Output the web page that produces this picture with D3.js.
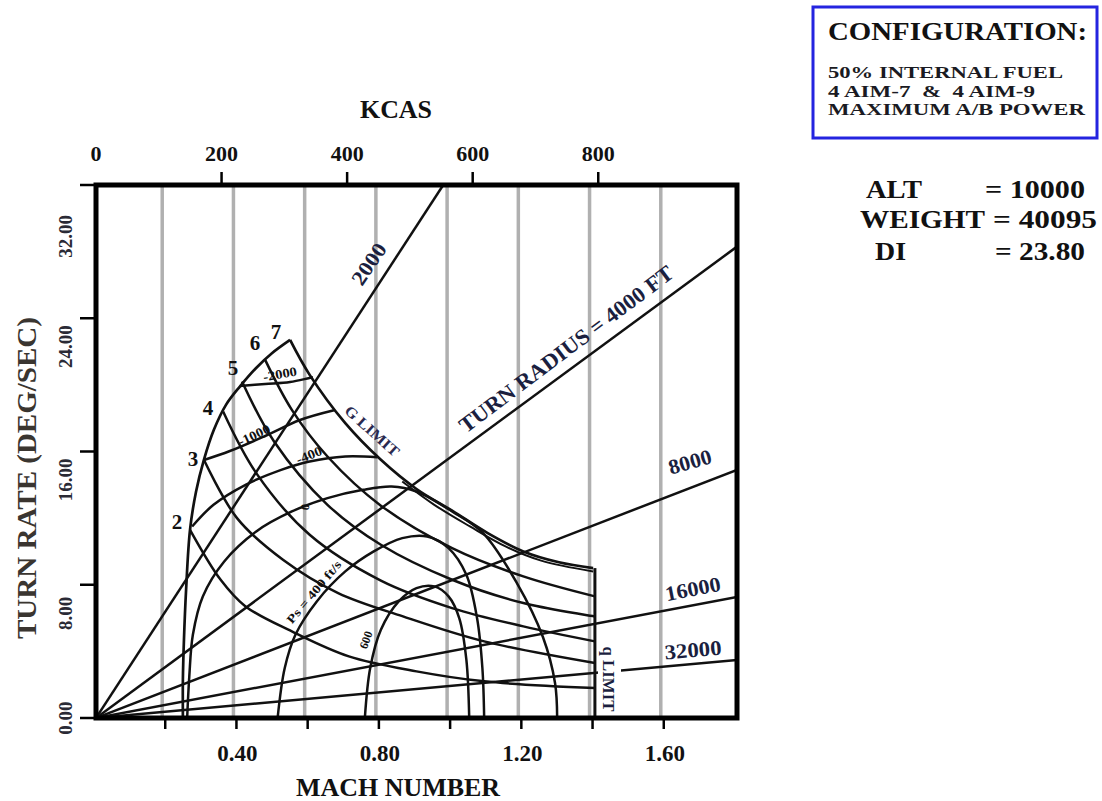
<!DOCTYPE html>
<html><head><meta charset="utf-8">
<script src="https://cdn.jsdelivr.net/npm/d3@7"></script>
<style>
html,body{margin:0;padding:0;background:#fff;}
svg{display:block;font-family:"Liberation Serif","Times New Roman",serif;font-weight:bold;}
</style></head><body>
<svg id="chart" width="1102" height="801"></svg>
<script>
// ---- axis values ----
const machTicks = [0.2, 0.4, 0.6, 0.8, 1.0, 1.2, 1.4, 1.6];
const machLabels = [0.4, 0.8, 1.2, 1.6];
const gridMach = [0.2, 0.4, 0.6, 0.8, 1.0, 1.2, 1.4, 1.6];
const rateTicks = [0, 8, 16, 24, 32];
const kcasTicks = [0, 200, 400, 600, 800];

// ---- turn radius lines (ft): end point of each ray from the origin ----
const radiusFt = [2000, 4000, 8000, 16000, 32000];
const radiusEndMach = [0.975, 1.8, 1.8, 1.8, 1.8];
const radiusEndRate = [32, 28.3, 14.9, 7.26, 3.48];

// ---- envelope boundaries [mach, deg/sec] ----
const stallLimit = [[0.244,0],[0.244,2.3],[0.247,4.7],[0.253,7.7],[0.264,11.3],[0.281,13.6],[0.303,15.5],[0.331,17.3],[0.365,18.8],[0.404,19.9],[0.449,21.0],[0.494,21.9],[0.545,22.7]];
const gLimit = [[0.545,22.7],[0.6,20.6],[0.7,17.7],[0.8,15.5],[0.9,13.75],[1.0,12.45],[1.1,11.1],[1.2,10.0],[1.3,9.35],[1.396,9.0]];
const gLimitInner = [[0.86,14.2],[0.95,12.8],[1.05,11.5],[1.15,10.3],[1.25,9.45],[1.396,8.8]];
const qLimit = [[1.401,9.0],[1.401,0]];

// ---- load factor lines (g) ----
const loadFactors = [2, 3, 4, 5, 6];
const loadLines = [
  [[0.264,11.3],[0.35,8.3],[0.42,6.7],[0.55,5.2],[0.71,3.7],[0.90,2.8],[1.09,2.2],[1.401,1.8]],
  [[0.303,15.5],[0.396,12.0],[0.525,9.5],[0.68,7.5],[0.862,6.1],[1.09,4.6],[1.401,3.3]],
  [[0.357,18.4],[0.45,14.7],[0.6,11.0],[0.8,8.25],[1.0,6.6],[1.2,5.5],[1.401,4.6]],
  [[0.41,20.2],[0.5,16.6],[0.65,12.8],[0.8,10.4],[1.0,8.3],[1.2,6.9],[1.401,6.1]],
  [[0.475,21.5],[0.55,18.5],[0.65,15.7],[0.8,12.75],[1.0,10.2],[1.2,8.5],[1.401,7.3]]
];

// ---- specific excess power contours (ft/s) ----
const psValues = [-2000, -1000, -400, 0, 400, 600];
const psLines = [
  [[0.404,19.93],[0.475,20.05],[0.545,20.17],[0.609,20.47]],
  [[0.303,15.49],[0.376,16.03],[0.475,16.93],[0.573,17.89],[0.671,18.49]],
  [[0.27,11.5],[0.33,12.8],[0.42,14.0],[0.52,14.9],[0.60,15.4],[0.70,15.7],[0.79,15.65]],
  [[0.256,0],[0.262,2.5],[0.272,5.0],[0.30,7.3],[0.36,9.4],[0.45,11.2],[0.55,12.4],[0.65,13.2],[0.75,13.7],[0.83,13.9],[0.90,13.6],[1.0,12.4],[1.087,11.1],[1.182,8.1],[1.255,4.86],[1.289,2.1],[1.295,0]],
  [[0.51,0],[0.53,3.0],[0.56,5.0],[0.62,7.0],[0.70,8.8],[0.78,10.0],[0.86,10.8],[0.93,10.9],[0.99,10.2],[1.04,8.6],[1.07,6.0],[1.085,3.0],[1.09,0]],
  [[0.755,0],[0.77,3.0],[0.80,5.3],[0.85,7.0],[0.90,7.8],[0.95,7.9],[0.99,7.3],[1.02,6.0],[1.04,3.5],[1.048,0]]
];

// ---- side panel text ----
const configTitle = "CONFIGURATION:";
const configLines = ["50% INTERNAL FUEL", "4 AIM-7  &  4 AIM-9", "MAXIMUM A/B POWER"];
const condNames = ["ALT", "WEIGHT", "DI"];
const condValues = ["= 10000", "= 40095", "= 23.80"];

// ---- scales ----
const svg = d3.select("#chart");
const L = 96, R = 737, T = 185, B = 718;
const x = d3.scaleLinear().domain([0, 1.8]).range([L, R]);
const y = d3.scaleLinear().domain([0, 32]).range([B, T]);
const kcas = d3.scaleLinear().domain([0, 1021]).range([L, R]);

const ink = "#111";
const navy = "#1b1f3f";
const lw = 2.5;

// grey Mach grid lines
svg.append("g").attr("transform", "translate(-5,0)")
  .selectAll("line").data(gridMach).join("line")
  .attr("x1", d => x(d)).attr("x2", d => x(d))
  .attr("y1", T).attr("y2", B)
  .attr("stroke", "#b0b0b0").attr("stroke-width", 3.5);

const line = d3.line().x(d => x(d[0])).y(d => y(d[1]));
const smooth = d3.line().x(d => x(d[0])).y(d => y(d[1])).curve(d3.curveCatmullRom.alpha(0.5));

svg.append("clipPath").attr("id", "frame")
  .append("rect").attr("x", L).attr("y", T).attr("width", R - L).attr("height", B - T);
const plot = svg.append("g").attr("clip-path", "url(#frame)");

// turn radius rays
radiusFt.forEach((r, i) => {
  plot.append("path")
    .attr("d", line([[0, 0], [radiusEndMach[i], radiusEndRate[i]]]))
    .attr("fill", "none").attr("stroke", ink).attr("stroke-width", lw);
});

// load factor lines
loadLines.forEach(pts => {
  plot.append("path").attr("d", smooth(pts))
    .attr("fill", "none").attr("stroke", ink).attr("stroke-width", lw);
});

// Ps contours
psLines.forEach(pts => {
  plot.append("path").attr("d", smooth(pts))
    .attr("fill", "none").attr("stroke", ink).attr("stroke-width", lw);
});

// envelope
plot.append("path").attr("d", smooth(stallLimit))
  .attr("fill", "none").attr("stroke", ink).attr("stroke-width", 2.7);
plot.append("path").attr("d", smooth(gLimit))
  .attr("fill", "none").attr("stroke", ink).attr("stroke-width", 2.7);
plot.append("path").attr("d", smooth(gLimitInner))
  .attr("fill", "none").attr("stroke", ink).attr("stroke-width", 2);
plot.append("path").attr("d", line(qLimit))
  .attr("fill", "none").attr("stroke", ink).attr("stroke-width", 3);

// frame
svg.append("rect").attr("x", L).attr("y", T).attr("width", R - L).attr("height", B - T)
  .attr("fill", "none").attr("stroke", "#000").attr("stroke-width", 5);

// bottom Mach axis
const xAxis = svg.append("g");
xAxis.selectAll("line").data(machTicks).join("line")
  .attr("x1", d => x(d) - 2).attr("x2", d => x(d) - 2)
  .attr("y1", B).attr("y2", B + 11)
  .attr("stroke", "#000").attr("stroke-width", 2.5);
xAxis.selectAll("text").data(machLabels).join("text")
  .attr("x", d => x(d) - 1).attr("y", 761)
  .attr("text-anchor", "middle").attr("font-size", 23).attr("fill", ink)
  .text(d => d3.format(".2f")(d));
svg.append("text").attr("x", 398).attr("y", 796).attr("text-anchor", "middle")
  .attr("font-size", 25).attr("fill", ink)
  .attr("textLength", 204).attr("lengthAdjust", "spacingAndGlyphs").text("MACH NUMBER");

// top KCAS axis
const kAxis = svg.append("g");
kAxis.selectAll("line").data(kcasTicks.filter(d => d > 0)).join("line")
  .attr("x1", d => kcas(d)).attr("x2", d => kcas(d))
  .attr("y1", T).attr("y2", T - 13)
  .attr("stroke", "#000").attr("stroke-width", 2.5);
kAxis.selectAll("text").data(kcasTicks).join("text")
  .attr("x", d => kcas(d)).attr("y", 161)
  .attr("text-anchor", "middle").attr("font-size", 22).attr("fill", ink)
  .text(d => d);
svg.append("text").attr("x", 396).attr("y", 118).attr("text-anchor", "middle")
  .attr("font-size", 25).attr("fill", ink)
  .attr("textLength", 72).attr("lengthAdjust", "spacingAndGlyphs").text("KCAS");

// left turn-rate axis
const rateLabelShift = [0, 12, 7, 7, 30];
const yAxis = svg.append("g");
yAxis.selectAll("line").data(rateTicks).join("line")
  .attr("x1", L - 16).attr("x2", L)
  .attr("y1", d => y(d)).attr("y2", d => y(d))
  .attr("stroke", "#000").attr("stroke-width", 2.5);
yAxis.selectAll("text").data(rateTicks).join("text")
  .attr("transform", (d, i) => `translate(72,${y(d) + rateLabelShift[i]}) rotate(-90)`)
  .attr("text-anchor", d => d === 0 ? "middle" : "end")
  .attr("font-size", 19).attr("fill", "#2a2a35")
  .text(d => d3.format(".2f")(d));
svg.append("text").attr("transform", "translate(36,478) rotate(-90)")
  .attr("text-anchor", "middle").attr("font-size", 27).attr("fill", "#3a3530")
  .attr("textLength", 322).attr("lengthAdjust", "spacingAndGlyphs")
  .text("TURN RATE (DEG/SEC)");

// line labels
function label(txt, cx, cy, ang, size, color, len) {
  const t = svg.append("text")
    .attr("transform", `translate(${cx},${cy}) rotate(${ang})`)
    .attr("text-anchor", "middle").attr("dominant-baseline", "central")
    .attr("font-size", size).attr("fill", color).text(txt);
  if (len) t.attr("textLength", len).attr("lengthAdjust", "spacingAndGlyphs");
  return t;
}
label("2000", 369, 264, -56, 21, navy, 46);
label("TURN RADIUS = 4000 FT", 566, 349, -37, 22, navy, 262);
label("8000", 690, 462, -16, 21, navy, 44);
label("16000", 693, 589, -11, 21, navy, 56);
label("32000", 693, 650, -5, 21, navy, 57);
label("G LIMIT", 372, 431, 42, 15, "#2a2a50", 68);

// q limit label with a clear background
svg.append("rect").attr("x", 598).attr("y", 643).attr("width", 23).attr("height", 72).attr("fill", "#fff");
label("q LIMIT", 608, 679, 90, 16, navy, 65);

// load factor numbers along the stall boundary
const loadMarks = [2, 3, 4, 5, 6, 7];
const loadMarkPos = [[0.2275,11.77],[0.2724,15.55],[0.3145,18.61],[0.3847,21.01],[0.4465,22.51],[0.5055,23.17]];
loadMarks.forEach((n, i) => {
  svg.append("text").attr("x", x(loadMarkPos[i][0])).attr("y", y(loadMarkPos[i][1]))
    .attr("text-anchor", "middle").attr("dominant-baseline", "central")
    .attr("font-size", 21).attr("fill", ink).text(n);
});

// Ps labels
label("-2000", 280, 374, -10, 13, ink, 34);
label("-1000", 254, 435, -25, 13, ink, 34);
label("-400", 309, 455, -22, 13, ink, 27);
label("0", 305, 507, -80, 12, ink);
label("Ps = 400 ft/s", 314, 592, -50, 12, ink, 78);
label("600", 366, 640, -70, 12, ink);

// configuration panel
svg.append("rect").attr("x", 813).attr("y", 7).attr("width", 284).attr("height", 131)
  .attr("fill", "none").attr("stroke", "#2424e0").attr("stroke-width", 3);
svg.append("text").attr("x", 828).attr("y", 40).attr("font-size", 26).attr("fill", ink)
  .attr("textLength", 259).attr("lengthAdjust", "spacingAndGlyphs").text(configTitle);
const cfgLen = [235, 207, 257];
configLines.forEach((s, i) => {
  svg.append("text").attr("x", 828).attr("y", 78 + i * 18.5).attr("font-size", 16)
    .attr("fill", "#1a1a22")
    .style("white-space", "pre")
    .attr("textLength", cfgLen[i]).attr("lengthAdjust", "spacingAndGlyphs").text(s);
});

// flight condition
const condX = [866, 860, 875];
const condY = [198, 228, 260];
const nameLen = [56, 125, 31];
const valStart = [985, 993, 995];
const valLen = [100, 104, 90];
condNames.forEach((s, i) => {
  svg.append("text").attr("x", condX[i]).attr("y", condY[i]).attr("font-size", 26)
    .attr("fill", ink).attr("textLength", nameLen[i]).attr("lengthAdjust", "spacingAndGlyphs").text(s);
  svg.append("text").attr("x", valStart[i]).attr("y", condY[i])
    .attr("font-size", 26).attr("fill", ink)
    .attr("textLength", valLen[i]).attr("lengthAdjust", "spacingAndGlyphs").text(condValues[i]);
});
</script>
</body></html>
